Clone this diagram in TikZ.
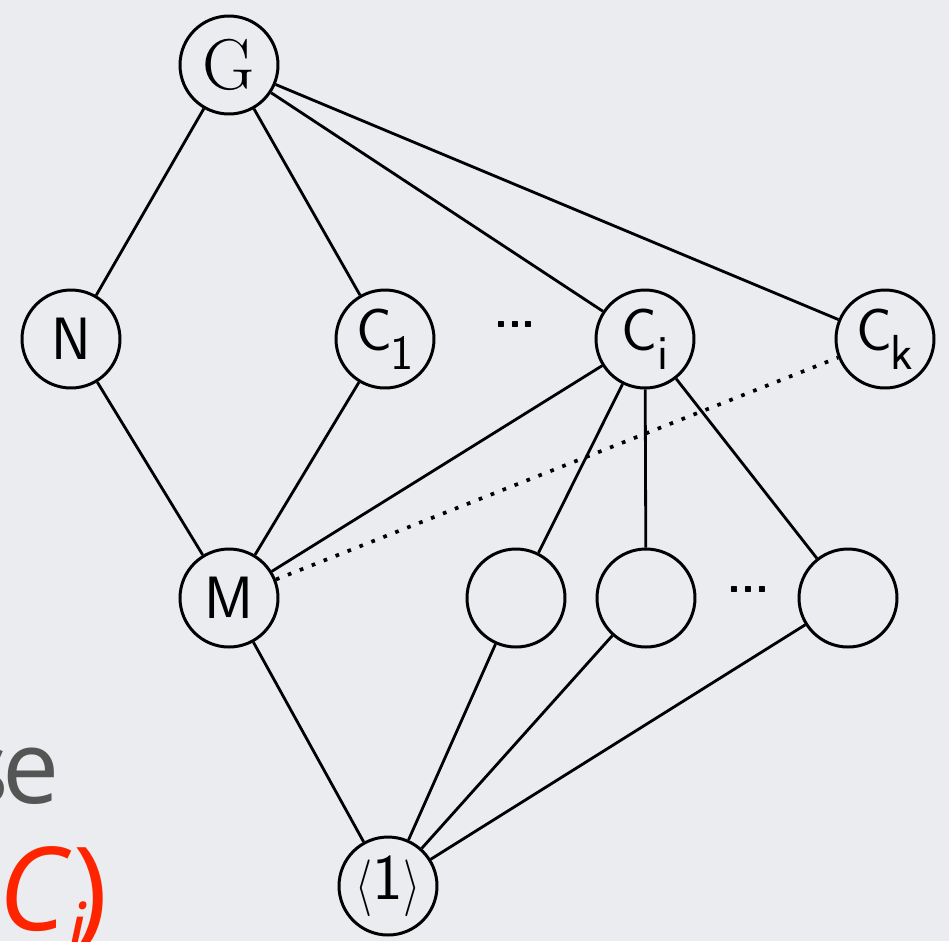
\documentclass[tikz,border=0pt]{standalone}
\usepackage{fontspec}
\newfontfamily\slidefont{Open Sans}
\definecolor{bg}{RGB}{235,236,239}
\definecolor{slidegrey}{RGB}{85,85,85}
\definecolor{slidered}{RGB}{255,36,0}
\tikzset{
  vtx/.style={circle,draw=black,line width=1.7pt,minimum size=1.96cm,inner sep=0pt,font=\sffamily\fontsize{34}{34}\selectfont},
  edge/.style={line width=1.6pt},
  dotedge/.style={line width=2.1pt,dash pattern=on 2.1pt off 5.2pt},
  dotsl/.style={font=\sffamily\bfseries\fontsize{26}{26}\selectfont}
}
\newcommand{\subsc}[1]{\raisebox{-11pt}{\fontsize{28}{28}\selectfont #1}}
\newcommand{\tallbr}[1]{\raisebox{-2pt}{\scalebox{1}[1.3]{$#1$}}}
\begin{document}
\begin{tikzpicture}[x=0.02cm,y=-0.02cm]
\fill[bg] (0,0) rectangle (949,941);
\useasboundingbox (0,0) rectangle (949,941);
\clip (0,0) rectangle (949,941);
% slide text
\node[anchor=base west,inner sep=0pt,text=slidegrey,font=\slidefont\fontsize{58}{58}\selectfont] (se) at (-40,803) {s\kern-0.06em e};
\node[anchor=base west,inner sep=0pt,text=slidered,font=\slidefont\fontsize{66}{66}\selectfont] (ci) at (-2,930) {\itshape C\raisebox{-16pt}{\fontsize{44}{44}\selectfont i}\kern-7pt\upshape)};
% nodes
\node[vtx,font=\rmfamily\fontsize{41}{41}\selectfont] (G) at (229,65) {G};
\node[vtx] (N) at (71,339) {N};
\node[vtx] (C1) at (385,339) {C\kern-1pt\subsc{1}};
\node[vtx] (Ci) at (645,339) {C\subsc{i}};
\node[vtx] (Ck) at (885,339) {C\kern-1pt\subsc{k}};
\node[vtx] (M) at (229,598) {M};
\node[vtx] (E1) at (516,598) {};
\node[vtx] (E2) at (646,598) {};
\node[vtx] (E3) at (848,598) {};
\node[vtx,font=\sffamily\fontsize{37}{37}\selectfont] (one) at (388,886) {\tallbr{\langle}1\tallbr{\rangle}};
\node[dotsl] (d1) at (515,324) {...};
\node[dotsl] (d2) at (748,589) {...};
% edges
\draw[edge] (G) -- (N);
\draw[edge] (G) -- (C1);
\draw[edge] (G) -- (Ci);
\draw[edge] (G) -- (Ck);
\draw[edge] (N) -- (M);
\draw[edge] (C1) -- (M);
\draw[edge] (Ci) -- (M);
\draw[edge] (Ci) -- (E1);
\draw[edge] (Ci) -- (E2);
\draw[edge] (Ci) -- (E3);
\draw[edge] (M) -- (one);
\draw[edge] (E1) -- (one);
\draw[edge] (E2) -- (one);
\draw[edge] (E3) -- (one);
\draw[dotedge] (M) -- (Ck);
\end{tikzpicture}
\end{document}
